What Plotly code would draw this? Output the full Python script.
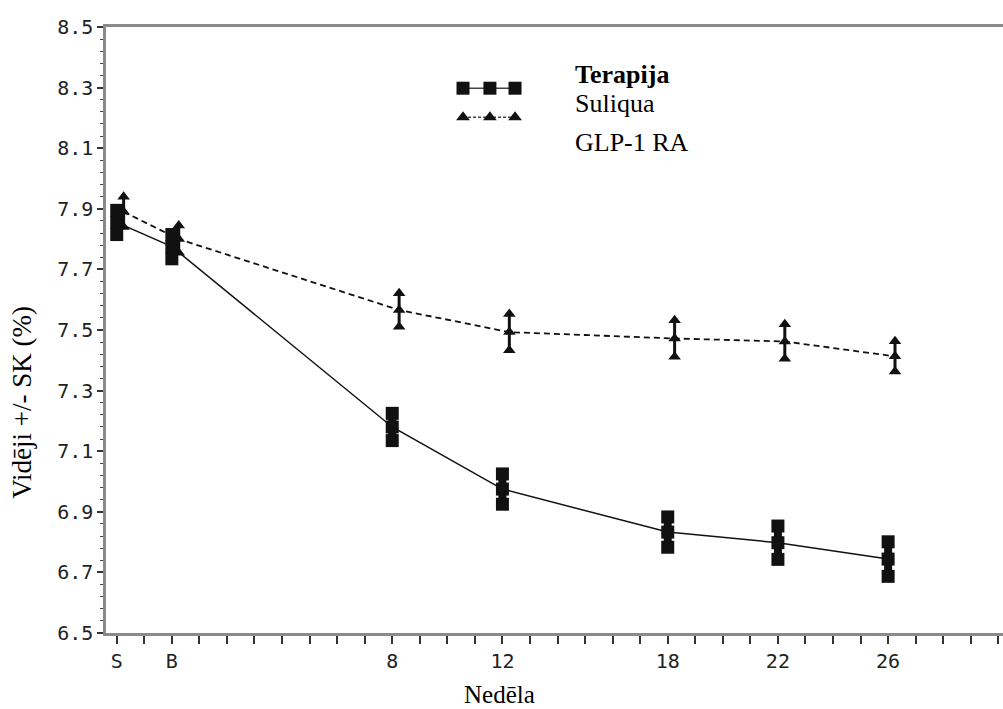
import plotly.graph_objects as go

# ---- data ----
visit_labels = ["S", "B", "8", "12", "18", "22", "26"]
visit_weeks = [-2, 0, 8, 12, 18, 22, 26]

suliqua_mean = [7.855, 7.775, 7.18, 6.975, 6.833, 6.798, 6.744]
suliqua_se = [0.040, 0.040, 0.045, 0.050, 0.050, 0.055, 0.057]

glp1_mean = [7.89, 7.80, 7.566, 7.493, 7.472, 7.462, 7.413]
glp1_se = [0.050, 0.045, 0.055, 0.060, 0.060, 0.057, 0.050]

legend_title = "Terapija"
series_names = ["Suliqua", "GLP-1 RA"]

# ---- style ----
GLP_OFFSET = 0.25          # horizontal jitter of the GLP-1 RA group (weeks)
AXIS_GRAY = "#8a8a8a"
INK = "#111111"
SERIF = "Liberation Serif"
MONO = "DejaVu Sans Mono"

fig = go.Figure()


def add_series(xs, mean, se, symbol, size, dash, lw, bar_w, name):
    lo = [m - s for m, s in zip(mean, se)]
    hi = [m + s for m, s in zip(mean, se)]
    fig.add_trace(go.Scatter(
        x=xs, y=mean, mode="lines+markers", name=name, showlegend=False,
        line=dict(color=INK, width=lw, dash=dash),
        marker=dict(symbol=symbol, size=size, color=INK),
        error_y=dict(type="data", array=se, visible=True, color=INK,
                     thickness=bar_w, width=0),
    ))
    fig.add_trace(go.Scatter(
        x=xs + xs, y=lo + hi, mode="markers", showlegend=False,
        marker=dict(symbol=symbol, size=size, color=INK),
        hoverinfo="skip",
    ))


add_series(list(visit_weeks), suliqua_mean, suliqua_se,
           "square", 13, "solid", 1.5, 8, series_names[0])
add_series([w + GLP_OFFSET for w in visit_weeks], glp1_mean, glp1_se,
           "triangle-up", 11, "6px,4px", 1.8, 3, series_names[1])

# ---- custom legend (drawn on an overlay axis in plot-area fractions) ----
leg_x = [0.398, 0.428, 0.456]
fig.add_trace(go.Scatter(
    x=leg_x, y=[0.899] * 3, xaxis="x2", yaxis="y2", mode="lines+markers",
    showlegend=False, hoverinfo="skip",
    line=dict(color="#444", width=1.5),
    marker=dict(symbol="square", size=13, color=INK),
))
fig.add_trace(go.Scatter(
    x=leg_x, y=[0.851] * 3, xaxis="x2", yaxis="y2", mode="lines+markers",
    showlegend=False, hoverinfo="skip",
    line=dict(color="#444", width=1.5, dash="3px,2px"),
    marker=dict(symbol="triangle-up", size=12, color=INK),
))

annotations = [
    dict(text="<b>" + legend_title + "</b>", x=0.5206, y=0.921),
    dict(text=series_names[0], x=0.5206, y=0.873),
    dict(text=series_names[1], x=0.5206, y=0.810),
]
for a in annotations:
    a.update(xref="paper", yref="paper", xanchor="left", yanchor="middle",
             showarrow=False, font=dict(family=SERIF, size=26, color="#000"))

annotations.append(dict(text="Nedēla", x=0.439, y=-0.101, xref="paper",
                        yref="paper", xanchor="center", yanchor="middle",
                        showarrow=False,
                        font=dict(family=SERIF, size=25, color="#000")))
annotations.append(dict(text="Vidēji +/- SK (%)", x=-0.0936, y=0.38,
                        xref="paper", yref="paper", xanchor="center",
                        yanchor="middle", textangle=-90, showarrow=False,
                        font=dict(family=SERIF, size=27, color="#000")))

all_weeks = list(range(-2, 31))
tick_text = [visit_labels[visit_weeks.index(w)] if w in visit_weeks else ""
             for w in all_weeks]
y_ticks = [round(6.5 + 0.2 * i, 1) for i in range(11)]

fig.update_layout(
    width=1003, height=709,
    margin=dict(l=106, r=0, t=27, b=76, autoexpand=False),
    paper_bgcolor="white", plot_bgcolor="white",
    showlegend=False,
    annotations=annotations,
    xaxis=dict(
        range=[-2.39, 30.17], tickmode="array", tickvals=all_weeks,
        ticktext=tick_text, ticks="outside", ticklen=8, tickwidth=1.5,
        tickcolor="#333", showline=True, linecolor=AXIS_GRAY, linewidth=2.5,
        mirror=True, showgrid=False, zeroline=False, automargin=False,
        tickfont=dict(family=MONO, size=20, color="#222"),
    ),
    yaxis=dict(
        range=[6.5, 8.5], tickmode="array", tickvals=y_ticks,
        ticktext=[f"{v:.1f}" for v in y_ticks], ticks="outside", ticklen=6,
        tickwidth=1.5, tickcolor="#333", showline=True,
        linecolor=AXIS_GRAY, linewidth=2.5, showgrid=False, zeroline=False,
        automargin=False,
        tickfont=dict(family=MONO, size=20, color="#222"),
        minor=dict(tickmode="linear", tick0=6.5, dtick=0.04, ticks="outside",
                   ticklen=3, tickwidth=1.2, tickcolor="#444",
                   showgrid=False),
    ),
    xaxis2=dict(range=[0, 1], overlaying="x", anchor="y2", visible=False),
    yaxis2=dict(range=[0, 1], overlaying="y", anchor="x2", visible=False),
)

fig.write_html("out.html",
               config={"displayModeBar": False},
               post_script="document.body.style.margin='0px';"
                           "document.body.style.overflow='hidden';")
